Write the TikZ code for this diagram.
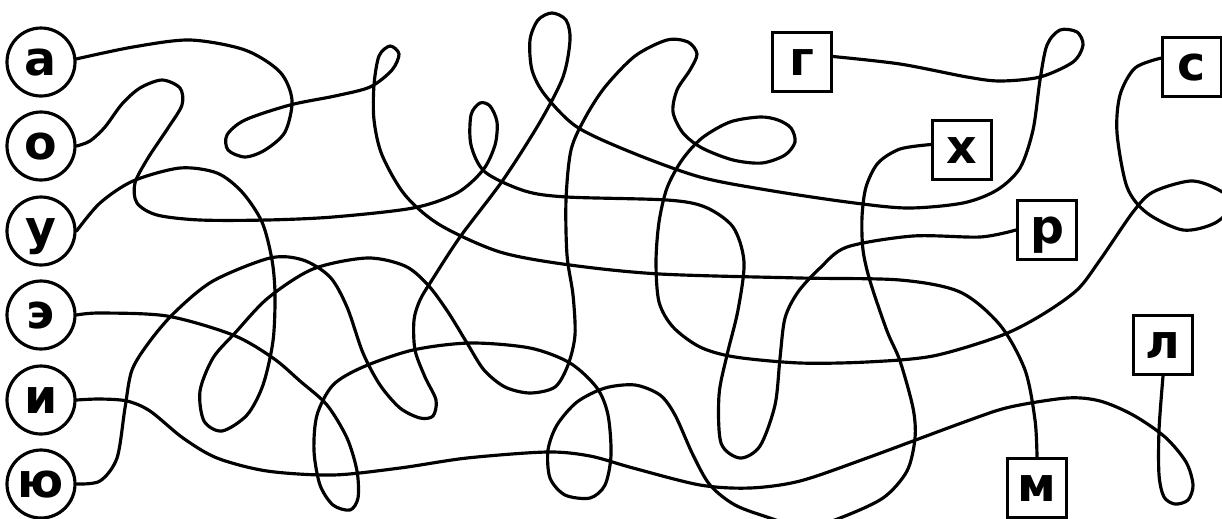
\documentclass[tikz,border=0pt]{standalone}
\usepackage{fontspec}
\setmainfont{DejaVu Sans}

\begin{document}
\begin{tikzpicture}[x=0.02cm, y=-0.02cm, line width=1.8pt,
  letter/.style={circle, draw, minimum size=1.36cm, inner sep=0pt, text height=0.52cm, text depth=0cm, font=\bfseries\fontsize{27}{30}\selectfont},
  answer/.style={rectangle, draw, minimum size=1.18cm, inner sep=0pt, text height=0.52cm, text depth=0cm, font=\bfseries\fontsize{27}{30}\selectfont},
  wire/.style={line cap=round, line join=round}]
  \useasboundingbox (0,0) rectangle (1222,518);
  \node[letter] (a) at (41,62) {а};
  \node[letter] (o) at (41,146) {о};
  \node[letter] (u) at (41,231) {у};
  \node[letter] (e) at (41,315) {э};
  \node[letter] (i) at (41,400) {и};
  \node[letter] (yu) at (41,484) {ю};
  \node[answer] (g) at (802,62) {г};
  \node[answer] (s) at (1192,67) {с};
  \node[answer] (kh) at (962,150) {х};
  \node[answer] (r) at (1047,230) {р};
  \node[answer] (l) at (1163,345) {л};
  \node[answer] (m) at (1037,488) {м};
  \draw[wire] plot[smooth] coordinates {(a.5) (133,47) (190,40) (245,50) (280,72) (292,100) (285,132) (265,150) (245,157) (228,150) (227,135) (245,120) (290,105) (335,96) (370,87) (392,70) (399,54) (390,46) (379,56) (374,85) (374,120) (382,155) (405,195) (440,225) (500,252) (570,265) (660,274) (800,278) (900,280) (960,292) (1000,325) (1025,370) (1035,420) (m.north)};
  \draw[wire] plot[smooth] coordinates {(o.east) (90,141) (105,127) (122,104) (140,88) (162,80) (180,88) (182,105) (168,128) (148,158) (135,183) (137,203) (157,215) (200,220) (267,220) (333,217) (413,208) (457,193) (483,170) (495,145) (497,122) (490,106) (480,103) (471,115) (471,145) (485,172) (525,191) (567,197) (667,200) (705,207) (733,227) (744,262) (738,310) (727,355) (719,395) (721,443) (740,458) (760,446) (775,405) (780,358) (785,318) (798,292) (820,268) (847,247) (913,236) (980,237) (r.west)};
  \draw[wire] plot[smooth] coordinates {(u.east) (100,203) (133,181) (180,168) (217,173) (242,192) (262,222) (272,260) (275,295) (273,341) (263,385) (247,415) (222,431) (204,421) (200,391) (213,358) (235,333) (268,298) (313,269) (367,258) (405,266) (428,285) (448,312) (467,343) (484,370) (505,387) (530,393) (555,387) (568,365) (575,335) (573,295) (567,255) (566,200) (571,150) (585,118) (605,87) (635,56) (667,40) (688,42) (697,54) (690,70) (677,90) (673,112) (683,133) (702,148) (733,160) (762,163) (785,155) (795,142) (791,128) (778,120) (760,117) (730,122) (702,138) (682,160) (667,188) (659,222) (656,262) (659,302) (673,327) (700,347) (735,357) (800,363) (867,362) (933,356) (1000,336) (1040,316) (1077,290) (1100,260) (1133,212) (1153,192) (1190,181) (1215,188) (1234,203) (1215,223) (1183,230) (1147,213) (1127,187) (1117,133) (1120,95) (1135,68) (s.164)};
  \draw[wire] plot[smooth] coordinates {(e.east) (100,313) (167,316) (233,335) (273,358) (300,381) (327,405) (347,438) (357,471) (358,498) (350,510) (333,505) (320,485) (314,451) (317,415) (333,385) (363,367) (413,350) (470,343) (530,348) (570,363) (597,388) (608,415) (611,455) (605,485) (590,498) (565,495) (550,478) (548,450) (557,425) (577,402) (605,388) (635,385) (660,395) (675,415) (693,455) (710,485) (735,505) (770,518) (805,528) (840,518) (883,498) (907,471) (915,438) (913,408) (900,361) (887,331) (870,281) (863,250) (862,217) (866,187) (878,163) (900,149) (kh.170)};
  \draw[wire] plot[smooth] coordinates {(i.east) (100,399) (127,401) (150,411) (183,438) (217,458) (267,471) (333,475) (400,468) (467,458) (547,452) (590,456) (633,468) (700,485) (750,488) (800,481) (867,458) (967,421) (1010,407) (1067,398) (1100,401) (1133,415) (1165,437) (1186,462) (1193,485) (1188,500) (1175,504) (1164,497) (1159,475) (1159,430) (l.south)};
  \draw[wire] plot[smooth] coordinates {(yu.east) (100,481) (117,458) (125,408) (132,370) (150,341) (175,312) (213,281) (270,258) (303,260) (330,277) (347,307) (363,353) (380,385) (400,408) (420,418) (433,416) (436,400) (425,377) (415,350) (414,320) (420,300) (432,280) (460,237) (503,180) (540,122) (563,77) (570,40) (566,20) (552,13) (538,20) (530,40) (532,70) (545,95) (577,127) (633,153) (700,177) (767,190) (847,202) (907,208) (963,203) (997,190) (1020,168) (1033,130) (1040,80) (1047,45) (1060,30) (1077,32) (1083,45) (1073,62) (1040,77) (1000,81) (967,77) (900,64) (g.10)};
\end{tikzpicture}
\end{document}
